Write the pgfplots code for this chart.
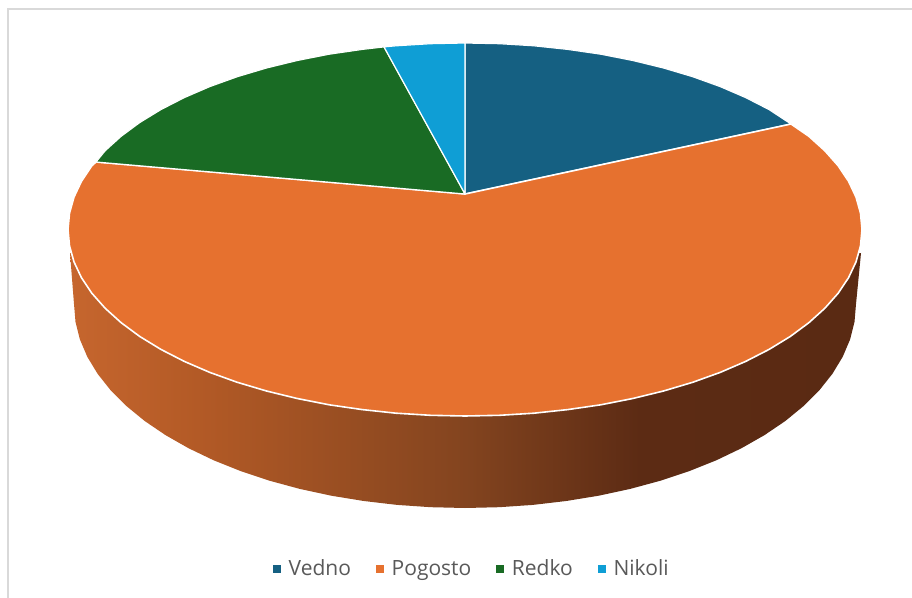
\documentclass[border=0pt]{standalone}
\usepackage{fontspec}
\setmainfont{Open Sans}
\usepackage{pgfplots}
\pgfplotsset{compat=1.18}
\definecolor{cVedno}{HTML}{156082}
\definecolor{cPogosto}{HTML}{E6712F}
\definecolor{cRedko}{HTML}{196B24}
\definecolor{cNikoli}{HTML}{0F9ED5}
\definecolor{cFrame}{HTML}{D9D9D9}
\definecolor{cText}{HTML}{595959}
\definecolor{sA}{HTML}{C6662E}
\definecolor{sB}{HTML}{B35A26}
\definecolor{sC}{HTML}{83441F}
\definecolor{sD}{HTML}{5C2B14}
\definecolor{sE}{HTML}{5A2A13}
\pgfdeclarehorizontalshading{sideshade}{100bp}{
  color(0bp)=(sA);
  color(25bp)=(sA);
  color(33bp)=(sB);
  color(50bp)=(sC);
  color(61bp)=(sD);
  color(75bp)=(sE);
  color(100bp)=(sE)}
\begin{document}
\begin{tikzpicture}
\begin{axis}[
  scale only axis, width=684pt, height=448.5pt,
  xmin=0, xmax=912, ymin=0, ymax=598, y dir=reverse,
  hide axis, clip=true,
  legend columns=4,
  legend style={at={(axis cs:472,568.5)}, anchor=center, draw=none, fill=none,
    font=\fontsize{15.75}{18}\selectfont\color{cText},
    /tikz/every even column/.append style={column sep=16.5pt},
    /tikz/every odd column/.append style={column sep=4pt}},
  legend image code/.code={\fill[#1,draw=none] (0pt,-3pt) rectangle (6pt,3pt);},
]
% page background, which keeps the whole page in the picture
\addplot[forget plot, draw=none, fill=white] coordinates {(0,0)(912,0)(912,598)(0,598)} -- cycle;
% frame
\addplot[forget plot, draw=cFrame, line width=1.5pt] coordinates {(8,598)(8,9)(912,9)};
% side wall
\addplot[forget plot, draw=none, shading=sideshade] coordinates {
(70,253)(74,304)(75.5,321.8)(79.9,339.4)(87.3,356.8)(97.6,373.8)(110.6,390.2)(126.4,406)
(144.7,421)(165.5,435.1)(188.5,448.2)(213.7,460.3)(240.7,471.1)(269.5,480.7)(299.8,488.9)
(331.3,495.7)(363.8,501)(397.1,504.9)(430.9,507.2)(465,508)(499.1,507.2)(532.9,504.9)
(566.2,501)(598.7,495.7)(630.2,488.9)(660.5,480.7)(689.3,471.1)(716.3,460.3)(741.5,448.2)
(764.5,435.1)(785.3,421)(803.6,406)(819.4,390.2)(832.4,373.8)(842.7,356.8)(850.1,339.4)
(854.5,321.8)(856,304)(861,253)(465,300)} -- cycle;
% Vedno
\addplot[draw=white, line width=0.9pt, fill=cVedno, line join=round] coordinates {
(465,194)(465,43)(499.6,43.7)(533.9,45.8)(567.7,49.4)(600.8,54.2)(632.8,60.5)(663.5,68)
(692.7,76.7)(720.2,86.6)(745.7,97.6)(769.1,109.6)(791,124)} -- cycle;
\addlegendentry{Vedno}
% Pogosto
\addplot[draw=white, line width=1.2pt, fill=cPogosto, line join=round] coordinates {
(465,194)(791,124)(808.8,136.25)(824.8,150.7)(838.1,165.7)(848.5,181.2)(856,197.1)(860.5,213.2)(862,229.5)
(860.5,245.8)(856,261.9)(848.5,277.8)(838.1,293.3)(824.8,308.3)(808.8,322.75)(790.2,336.5)
(769.1,349.4)(745.7,361.4)(720.2,372.4)(692.7,382.3)(663.5,391)(632.8,398.5)(600.8,404.8)
(567.7,409.6)(533.9,413.2)(499.6,415.3)(465,416)(430.4,415.3)(396.1,413.2)(362.3,409.6)
(329.2,404.8)(297.2,398.5)(266.5,391)(237.3,382.3)(209.8,372.4)(184.3,361.4)(160.9,349.4)
(139.8,336.5)(121.2,322.75)(105.2,308.3)(91.9,293.3)(81.5,277.8)(74,261.9)(69.5,245.8)(68,229.5)
(69.5,213.2)(74,197.1)(81.5,181.2)(91.9,165.7)(96,162)} -- cycle;
\addlegendentry{Pogosto}
% Redko
\addplot[draw=white, line width=0.9pt, fill=cRedko, line join=round] coordinates {
(465,194)(96,162)(105.2,150.7)(121.2,136.25)(139.8,122.5)(160.9,109.6)(184.3,97.6)(209.8,86.6)
(237.3,76.7)(266.5,68)(297.2,60.5)(329.2,54.2)(362.3,49.4)(384,46.9)} -- cycle;
\addlegendentry{Redko}
% Nikoli
\addplot[draw=white, line width=0.9pt, fill=cNikoli, line join=round] coordinates {
(465,194)(384,46.9)(396.1,45.8)(430.4,43.7)(465,43)} -- cycle;
\addlegendentry{Nikoli}
\end{axis}
\end{tikzpicture}
\end{document}
